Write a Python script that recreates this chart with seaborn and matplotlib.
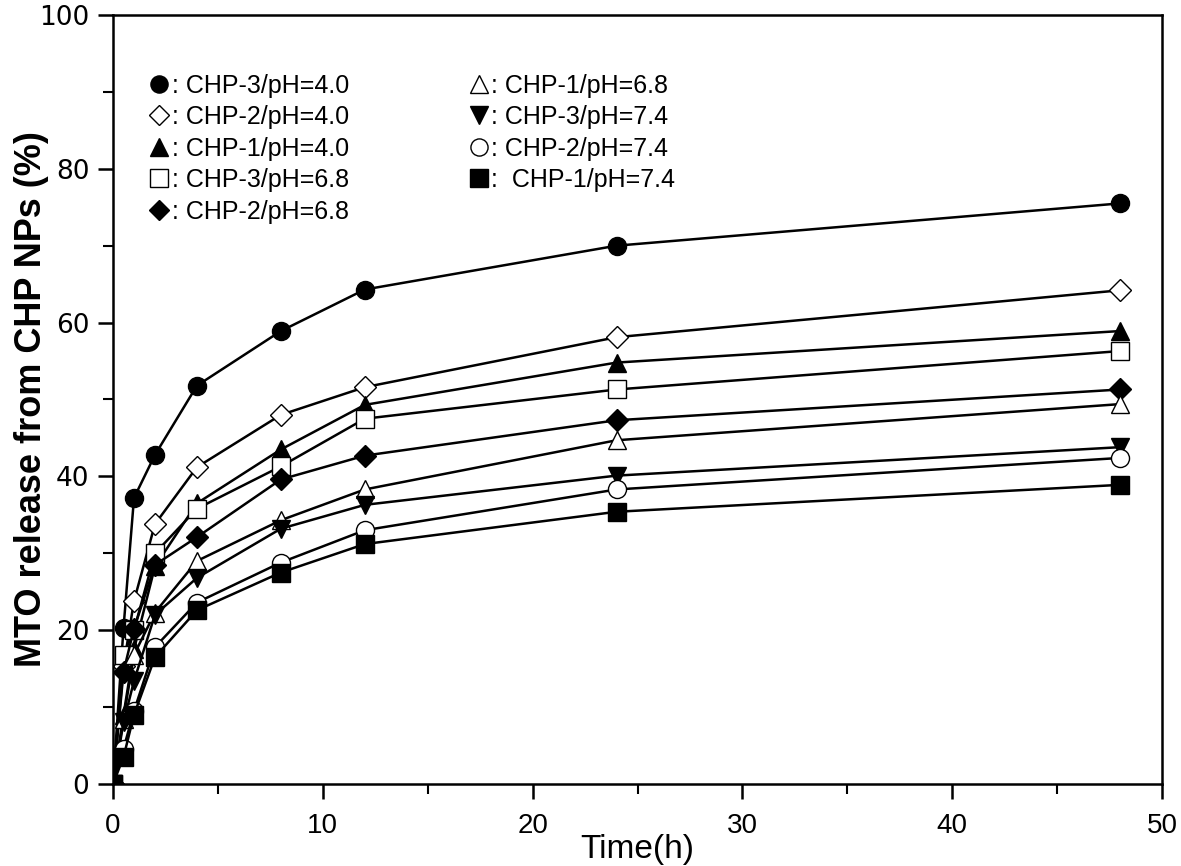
import numpy as np
import pandas as pd
import matplotlib
matplotlib.use("Agg")
import matplotlib.pyplot as plt
import seaborn as sns
from matplotlib.ticker import MultipleLocator

time_h = [0, 0.5, 1, 2, 4, 8, 12, 24, 48]

labels = [
    "CHP-3/pH=4.0", "CHP-2/pH=4.0", "CHP-1/pH=4.0", "CHP-3/pH=6.8", "CHP-2/pH=6.8",
    "CHP-1/pH=6.8", "CHP-3/pH=7.4", "CHP-2/pH=7.4", " CHP-1/pH=7.4",
]

chp3_ph40 = [0, 20.3, 37.2, 42.8, 51.8, 58.9, 64.3, 70.0, 75.5]
chp2_ph40 = [0, 15.3, 23.8, 33.8, 41.2, 48.0, 51.6, 58.1, 64.2]
chp1_ph40 = [0, 9.0, 17.5, 28.3, 36.5, 43.5, 49.3, 54.8, 58.9]
chp3_ph68 = [0, 16.8, 20.0, 30.0, 35.8, 41.3, 47.5, 51.3, 56.3]
chp2_ph68 = [0, 14.6, 20.2, 28.5, 32.1, 39.6, 42.7, 47.3, 51.3]
chp1_ph68 = [0, 8.5, 16.8, 22.3, 29.0, 34.3, 38.3, 44.7, 49.4]
chp3_ph74 = [0, 8.0, 13.4, 22.0, 26.8, 33.2, 36.3, 40.1, 43.8]
chp2_ph74 = [0, 4.6, 9.5, 17.8, 23.6, 28.8, 33.0, 38.3, 42.4]
chp1_ph74 = [0, 3.5, 9.0, 16.5, 22.6, 27.5, 31.2, 35.4, 38.9]

series = [chp3_ph40, chp2_ph40, chp1_ph40, chp3_ph68, chp2_ph68,
          chp1_ph68, chp3_ph74, chp2_ph74, chp1_ph74]

# marker, filled?
styles = [("o", True), ("D", False), ("^", True), ("s", False), ("D", True),
          ("^", False), ("v", True), ("o", False), ("s", True)]

sns.set_style("ticks")
plt.rcParams["font.family"] = ["Liberation Sans", "DejaVu Sans"]
plt.rcParams["text.color"] = "black"
plt.rcParams["axes.labelcolor"] = "black"
plt.rcParams["xtick.color"] = "black"
plt.rcParams["ytick.color"] = "black"
plt.rcParams["axes.edgecolor"] = "black"

fig = plt.figure(figsize=(11.81, 8.66), dpi=100)
ax = fig.add_axes([0.0957, 0.0947, 0.8883, 0.888])

for lab, vals, (mk, filled) in zip(labels, series, styles):
    df = pd.DataFrame({"time": time_h, "release": vals})
    size = 11 if mk == "D" else 13
    sns.lineplot(data=df, x="time", y="release", ax=ax, color="black",
                 linewidth=1.8, marker=mk, markersize=size,
                 markerfacecolor="black" if filled else "white",
                 markeredgecolor="black", markeredgewidth=1.0,
                 label=": " + lab)

ax.set_xlim(0, 50)
ax.set_ylim(0, 100)
ax.xaxis.set_major_locator(MultipleLocator(10))
ax.xaxis.set_minor_locator(MultipleLocator(5))
ax.yaxis.set_major_locator(MultipleLocator(20))
ax.yaxis.set_minor_locator(MultipleLocator(10))
ax.tick_params(which="major", direction="out", length=11, width=1.8)
ax.tick_params(which="minor", direction="out", length=7, width=1.5)
ax.tick_params(axis="y", labelsize=19, pad=6)
ax.tick_params(axis="x", labelsize=20, pad=10)
for t in ax.get_yticklabels():
    t.set_family(["DejaVu Sans"])
for s in ax.spines.values():
    s.set_linewidth(1.8)
    s.set_visible(True)

ax.set_xlabel("Time(h)", fontsize=24, labelpad=-4)
ax.set_ylabel("MTO release from CHP NPs (%)", fontsize=26, fontweight="bold")
ax.yaxis.set_label_coords(-0.061, 0.5)

leg = ax.legend(loc="upper left", bbox_to_anchor=(0.013, 0.953), ncol=2, frameon=False,
                fontsize=18, handlelength=0.8, handletextpad=0.1, labelspacing=0.3,
                columnspacing=4.8, markerscale=0.95)
for h in leg.legend_handles:
    h.set_linestyle("none")

fig.savefig("out.png", dpi=100)
